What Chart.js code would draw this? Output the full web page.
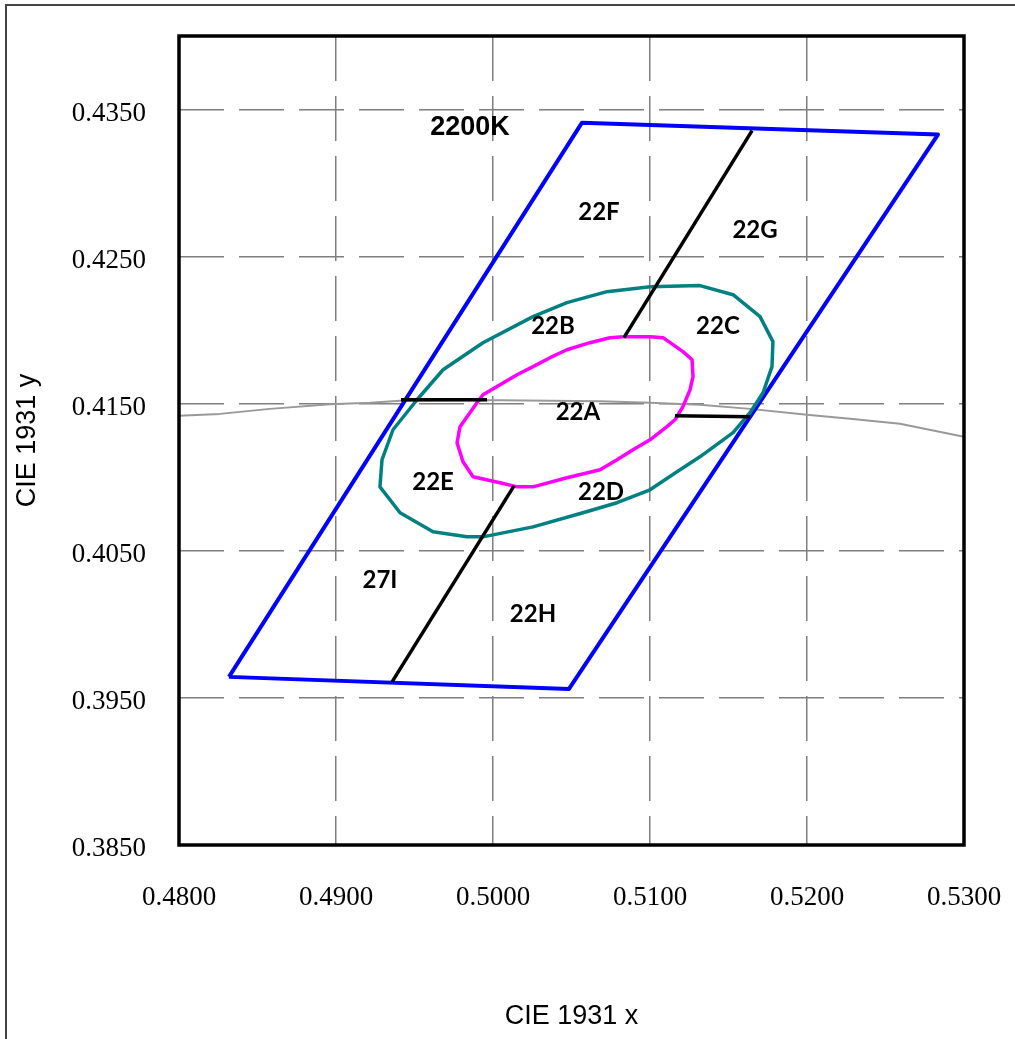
<!DOCTYPE html>
<html>
<head>
<meta charset="utf-8">
<script src="https://cdn.jsdelivr.net/npm/chart.js@4/dist/chart.umd.min.js"></script>
<style>
  body { margin: 0; background: #fff; overflow: hidden; }
  canvas { display: block; }
</style>
</head>
<body>
<canvas id="cie" width="1015" height="1039"></canvas>
<script>
// tick positions
const xTicks = [0.48, 0.49, 0.50, 0.51, 0.52, 0.53];
const yTicks = [0.385, 0.395, 0.405, 0.415, 0.425, 0.435];

// 2200K quadrangle (closed)
const quadX = [0.48318, 0.50567, 0.52834, 0.50484, 0.48318];
const quadY = [0.39643, 0.43411, 0.43330, 0.39561, 0.39643];

// outer ellipse (teal)
const outerX = [0.51000, 0.51318, 0.51529, 0.51701, 0.51783, 0.51777, 0.51720, 0.51637, 0.51529, 0.51318,
  0.51172, 0.51000, 0.50790, 0.50573, 0.50255, 0.49936, 0.49834, 0.49618, 0.49408, 0.49280,
  0.49293, 0.49363, 0.49516, 0.49682, 0.49936, 0.50255, 0.50471, 0.50726, 0.51000];
const outerY = [0.42296, 0.42303, 0.42241, 0.42092, 0.41922, 0.41752, 0.41575, 0.41439, 0.41303, 0.41139,
  0.41037, 0.40915, 0.40827, 0.40759, 0.40663, 0.40595, 0.40595, 0.40629, 0.40759, 0.40935,
  0.41119, 0.41323, 0.41527, 0.41731, 0.41915, 0.42092, 0.42187, 0.42262, 0.42296];

// inner ellipse (magenta)
const innerX = [0.50828, 0.51000, 0.51083, 0.51210, 0.51268, 0.51274, 0.51255, 0.51210, 0.51159, 0.51108,
  0.51000, 0.50892, 0.50790, 0.50682, 0.50471, 0.50255, 0.50153, 0.50045, 0.49873, 0.49809,
  0.49771, 0.49790, 0.49898, 0.49936, 0.50045, 0.50153, 0.50255, 0.50363, 0.50471, 0.50618,
  0.50745, 0.50828];
const innerY = [0.41956, 0.41956, 0.41949, 0.41854, 0.41799, 0.41684, 0.41595, 0.41480, 0.41391, 0.41344,
  0.41255, 0.41187, 0.41119, 0.41051, 0.40997, 0.40935, 0.40935, 0.40963, 0.41003, 0.41105,
  0.41235, 0.41344, 0.41507, 0.41561, 0.41629, 0.41697, 0.41752, 0.41813, 0.41867, 0.41915,
  0.41949, 0.41956];

// black divider segments
const divTopX = [0.50834, 0.51650], divTopY = [0.41949, 0.43357];
const divBotX = [0.49357, 0.50134], divBotY = [0.39609, 0.40942];
const divLeftX = [0.49414, 0.49962], divLeftY = [0.41527, 0.41527];
const divRightX = [0.51159, 0.51637], divRightY = [0.41418, 0.41412];

// blackbody locus (grey)
const planckX = [0.48, 0.48261, 0.48580, 0.48962, 0.49217, 0.49408, 0.49726, 0.50045, 0.50363, 0.50682,
  0.51, 0.51318, 0.51637, 0.52, 0.52274, 0.52592, 0.53];
const planckY = [0.41418, 0.41431, 0.41465, 0.41496, 0.41506, 0.41520, 0.41524, 0.41524, 0.41520, 0.41517,
  0.41506, 0.41493, 0.41465, 0.41425, 0.41398, 0.41364, 0.41276];

// bin names
const binText = ['22F', '22G', '22B', '22C', '22A', '22E', '22D', '27I', '22H'];
const binX = [0.50675, 0.51669, 0.50382, 0.51433, 0.50541, 0.49618, 0.50688, 0.49280, 0.50255];
const binY = [0.42799, 0.42677, 0.42024, 0.42024, 0.41439, 0.40963, 0.40901, 0.40303, 0.40071];
const cctText = '2200K', cctX = 0.49854, cctY = 0.43378;

const pts = (xs, ys) => xs.map((x, i) => ({ x: x, y: ys[i] }));

const line = (xs, ys, color, width) => ({
    data: pts(xs, ys),
    showLine: true,
    borderColor: color,
    backgroundColor: color,
    borderWidth: width,
    borderJoinStyle: 'round',
    pointRadius: 0,
    tension: 0,
    fill: false,
});

const frame = {
    id: 'frame',
    beforeDraw(chart) {
        const { ctx } = chart;
        ctx.save();
        ctx.fillStyle = '#fff';
        ctx.fillRect(0, 0, chart.width, chart.height);
        ctx.strokeStyle = '#444';
        ctx.lineWidth = 2;
        ctx.beginPath();
        ctx.moveTo(6, chart.height);
        ctx.lineTo(6, 5);
        ctx.lineTo(chart.width, 5);
        ctx.stroke();
        ctx.restore();
    },
    afterDraw(chart) {
        const { ctx, chartArea: a } = chart;
        ctx.save();
        ctx.strokeStyle = '#000';
        ctx.lineWidth = 3.5;
        ctx.strokeRect(a.left, a.top, a.right - a.left, a.bottom - a.top);
        ctx.restore();
    },
};

const binLabels = {
    id: 'binLabels',
    afterDatasetsDraw(chart) {
        const { ctx, scales } = chart;
        ctx.save();
        ctx.fillStyle = '#000';
        ctx.textAlign = 'center';
        ctx.textBaseline = 'middle';
        ctx.font = 'bold 24px Lato';
        binText.forEach((t, i) => {
            ctx.fillText(t, scales.x.getPixelForValue(binX[i]), scales.y.getPixelForValue(binY[i]));
        });
        ctx.font = 'bold 27px "Liberation Sans"';
        ctx.fillText(cctText, scales.x.getPixelForValue(cctX), scales.y.getPixelForValue(cctY));
        ctx.restore();
    },
};

// no label overhang padding, the layout padding places the plot box
const noOverhang = axis => {
    axis.paddingTop = 0;
    axis.paddingBottom = 0;
    axis.paddingLeft = 0;
    axis.paddingRight = 0;
};

const tickFont = { family: '"Liberation Serif"', size: 27 };
const titleFont = { family: '"Liberation Sans"', size: 27 };

new Chart(document.getElementById('cie'), {
    type: 'scatter',
    data: {
        datasets: [
            line(divTopX, divTopY, '#000', 3.5),
            line(divBotX, divBotY, '#000', 3.5),
            line(divLeftX, divLeftY, '#000', 3.5),
            line(divRightX, divRightY, '#000', 3.5),
            line(innerX, innerY, '#ff00ff', 3.5),
            line(outerX, outerY, '#008080', 3.5),
            line(quadX, quadY, '#0000ff', 4),
            line(planckX, planckY, '#999', 2),
        ],
    },
    options: {
        responsive: false,
        animation: false,
        devicePixelRatio: 1,
        layout: { padding: { left: 0, top: 36, right: 51, bottom: 0 } },
        plugins: {
            legend: { display: false },
            tooltip: { enabled: false },
        },
        scales: {
            x: {
                type: 'linear',
                min: 0.48,
                max: 0.53,
                afterBuildTicks(axis) { axis.ticks = xTicks.map(v => ({ value: v })); },
                afterFit(axis) { axis.height = 194; noOverhang(axis); },
                ticks: {
                    autoSkip: false,
                    maxRotation: 0,
                    padding: 37,
                    color: '#000',
                    font: tickFont,
                    callback: v => v.toFixed(4),
                },
                grid: { color: '#7f7f7f', lineWidth: 1.5, drawTicks: false },
                border: { display: false, dash: [45, 15] },
                title: {
                    display: true,
                    text: 'CIE 1931 x',
                    color: '#000',
                    font: titleFont,
                    padding: { top: 0, bottom: 6 },
                },
            },
            y: {
                type: 'linear',
                min: 0.385,
                max: 0.44,
                afterBuildTicks(axis) { axis.ticks = yTicks.map(v => ({ value: v })); },
                afterFit(axis) { axis.width = 179; noOverhang(axis); },
                ticks: {
                    autoSkip: false,
                    padding: 33,
                    labelOffset: 4,
                    color: '#000',
                    font: tickFont,
                    callback: v => v.toFixed(4),
                },
                grid: { color: '#7f7f7f', lineWidth: 1.5, drawTicks: false },
                border: { display: false, dash: [45, 15] },
                title: {
                    display: true,
                    text: 'CIE 1931 y',
                    color: '#000',
                    font: titleFont,
                    padding: { top: 11, bottom: 0 },
                },
            },
        },
    },
    plugins: [frame, binLabels],
});
</script>
</body>
</html>
